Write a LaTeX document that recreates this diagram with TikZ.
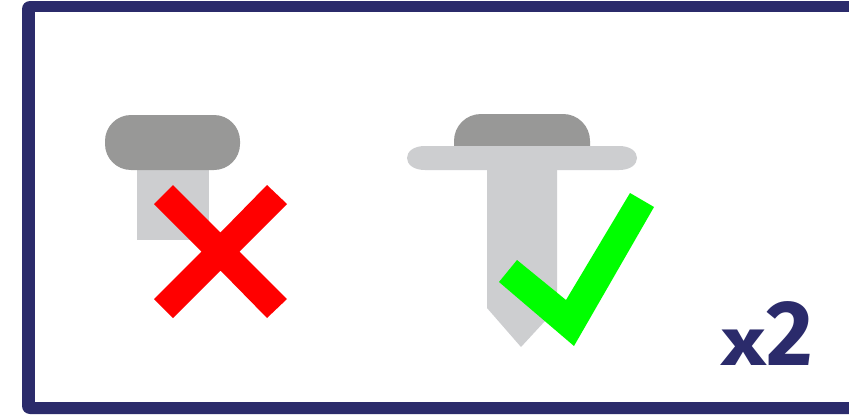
\documentclass[tikz,border=0pt]{standalone}
\usepackage{graphicx}
\usepackage{fontspec}
\setmainfont{Fira Sans}
\definecolor{navy}{HTML}{2B2B6B}
\definecolor{headg}{HTML}{989897}
\definecolor{bodyg}{HTML}{CDCED0}
\begin{document}
\begin{tikzpicture}[x=1pt,y=-1pt]
\useasboundingbox (0,0) rectangle (849,415);
\fill[white] (0,0) rectangle (849,415);
% frame
\fill[navy,rounded corners=8pt] (880,1) -- (22,1) -- (22,414) -- (880,414) -- cycle;
\fill[white] (880,12) -- (35,12) -- (35,402) -- (880,402) -- cycle;
% left rivet
\fill[bodyg] (137,165) rectangle (209,240);
\fill[headg,rounded corners=26pt] (105,115) rectangle (240,170);
% right rivet
\fill[bodyg] (487,165) -- (557,165) -- (557,308) -- (521,347) -- (487,308) -- cycle;
\fill[headg] (454,147) -- (454,141) .. controls (454,126) and (466,114) .. (481,114) -- (563,114) .. controls (578,114) and (590,126) .. (590,141) -- (590,147) -- cycle;
\fill[bodyg] (425,146) -- (619,146) .. controls (631,146) and (637,152) .. (637,158) .. controls (637,164) and (631,170) .. (619,170) -- (425,170) .. controls (413,170) and (407,164) .. (407,158) .. controls (407,152) and (413,146) .. (425,146) -- cycle;
% cross
\fill[red] (173,185) -- (220.5,232.5) -- (267,185) -- (287,204) -- (239.5,251.5) -- (287,299) -- (267,318) -- (220.5,270.5) -- (173,318) -- (154,299) -- (201.5,251.5) -- (154,204) -- cycle;
% check
\fill[green] (499,282) -- (517,260) -- (566,300) -- (630,193) -- (654,207) -- (574,346) -- cycle;
\node[navy,font=\fontsize{90}{90}\selectfont\bfseries,anchor=base,inner sep=0pt,yscale=1.03,transform shape] (x) at (767,365) {\scalebox{1.35}[1]{\fontsize{65}{65}\selectfont x}2};
\end{tikzpicture}
\end{document}
